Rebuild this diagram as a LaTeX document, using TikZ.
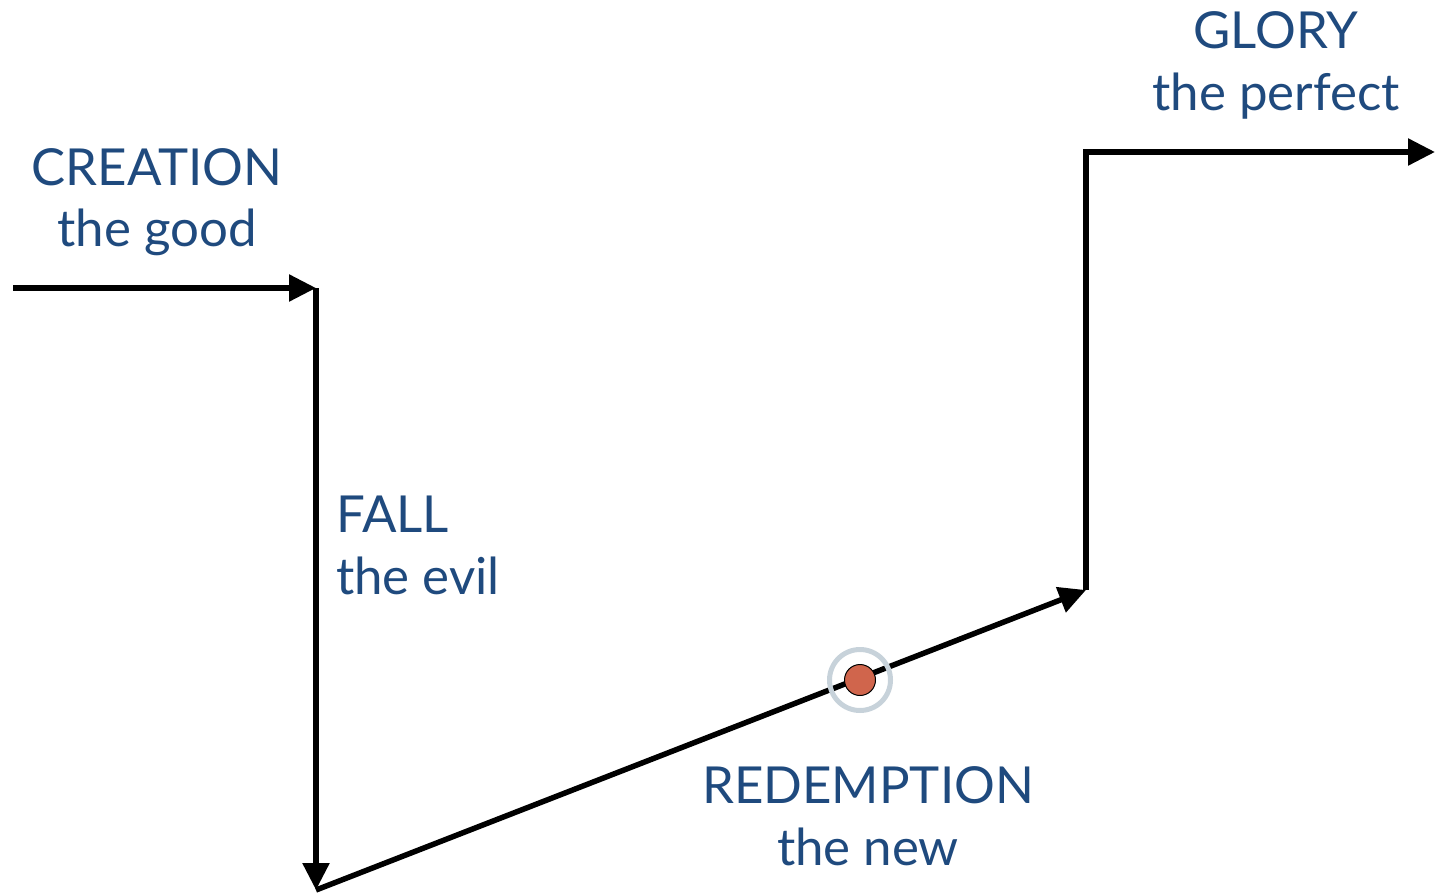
\documentclass[tikz,border=0pt]{standalone}
\usepackage{fontspec}
\setmainfont{Lato}
\usetikzlibrary{arrows.meta}
\definecolor{txtblue}{HTML}{1F4A7E}
\definecolor{dotred}{HTML}{D0654C}
\definecolor{ringgray}{HTML}{C7D2DA}
\begin{document}
\begin{tikzpicture}[x=1pt,y=-1pt,
  arr/.style={line width=5.5pt, line join=miter, -{Triangle[length=27pt,width=26pt]}},
  lbl/.style={text=txtblue, font=\fontsize{51}{60}\selectfont, inner sep=0pt, anchor=base}
]
\useasboundingbox (0,0) rectangle (1435,894);
\coordinate (a) at (13,288);
\coordinate (b) at (316,288);
\coordinate (c) at (316,890);
\coordinate (d) at (1086,590);
\coordinate (e) at (1086,152);
\coordinate (f) at (1435,152);
\draw[arr] (a) -- (b);
\draw[arr] (b) -- (c);
\draw[arr] (c) -- (d);
\draw[arr] (d) -- (e) -- (f);
\node[circle, draw=ringgray, line width=5pt, minimum size=61pt, inner sep=0pt] (ring) at (860,680) {};
\node[circle, draw=black, fill=dotred, line width=1pt, minimum size=31pt, inner sep=0pt] (dot) at (ring.center) {};
\node[lbl] (creation) at (157,185) {CREATION};
\node[lbl] (good) at (157,246) {the good};
\node[lbl, anchor=base west] (fall) at (336,532) {FALL};
\node[lbl, anchor=base west] (evil) at (336,594) {the evil};
\node[lbl] (redemption) at (868,803) {REDEMPTION};
\node[lbl] (new) at (868,865) {the new};
\node[lbl] (glory) at (1276,48) {GLORY};
\node[lbl] (perfect) at (1276,110) {the perfect};
\end{tikzpicture}
\end{document}
